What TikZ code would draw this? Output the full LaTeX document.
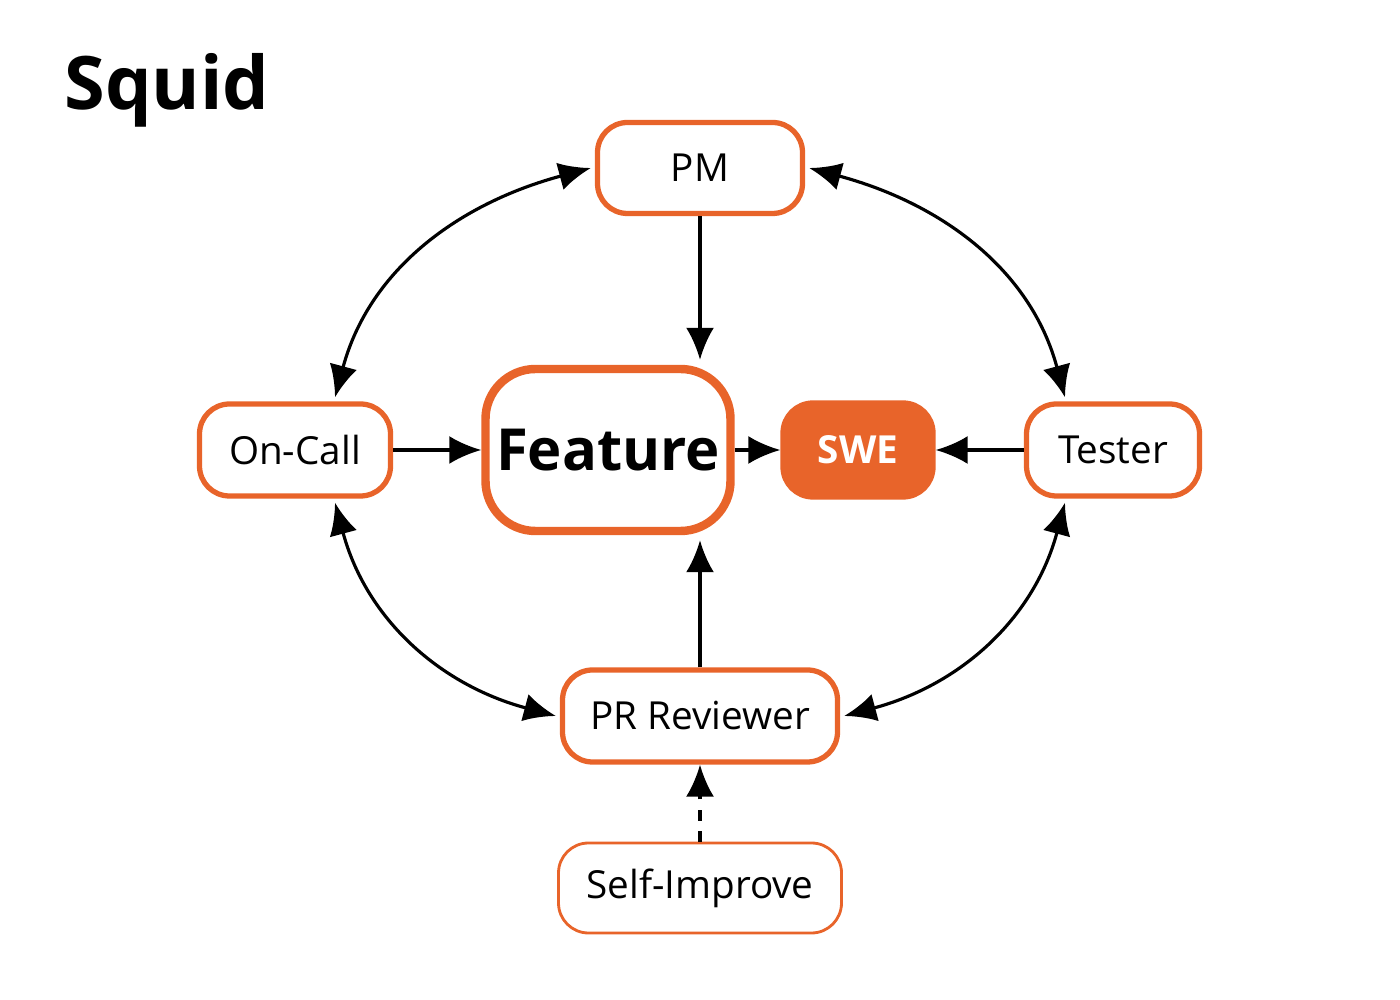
\documentclass[tikz,border=0pt]{standalone}
\usepackage{fontspec}
\setmainfont{Open Sans}
\usetikzlibrary{arrows.meta}
\definecolor{squidorange}{HTML}{E8642A}
\begin{document}
\begin{tikzpicture}[
          role/.style={draw=squidorange,line width=1.5pt,rounded corners=3mm,fill=white,
                       inner sep=0pt,font=\fontsize{11}{13}\selectfont},
          link/.style={line width=0.9pt,-{Latex[length=3.2mm,width=2.8mm]}},
          both/.style={line width=0.9pt,{Latex[length=3.2mm,width=2.8mm]}-{Latex[length=3.2mm,width=2.8mm]}},
        ]
        \useasboundingbox (0,0) rectangle (14,-10);
        \node[font=\fontsize{21}{25}\selectfont\bfseries,anchor=west] (title) at (0.52,-0.9) {Squid};

        \node[role,minimum width=2.05cm,minimum height=0.91cm] (pm) at (7,-1.68) {PM};
        \node[role,line width=2.4pt,rounded corners=5mm,minimum width=2.45cm,minimum height=1.62cm,
              font=\fontsize{16.5}{20}\selectfont\bfseries] (feature) at (6.08,-4.5) {Feature};
        \node[role,fill=squidorange,text=white,font=\fontsize{11}{13}\selectfont\bfseries,
              minimum width=1.5cm,minimum height=0.94cm] (swe) at (8.58,-4.5) {SWE};
        \node[role,minimum width=1.91cm,minimum height=0.92cm] (oncall) at (2.95,-4.5) {On-Call};
        \node[role,minimum width=1.73cm,minimum height=0.92cm] (tester) at (11.13,-4.5) {Tester};
        \node[role,minimum width=2.75cm,minimum height=0.92cm] (pr) at (7,-7.16) {PR Reviewer};
        \node[role,line width=0.8pt,minimum width=2.83cm,minimum height=0.9cm] (self) at (7,-8.88) {Self-Improve};

        % straight links
        \draw[link] (pm) -- ([yshift=0.05cm]feature.north -| pm);
        \draw[link] (oncall) -- (feature);
        \draw[link] (feature) -- (swe);
        \draw[link] (tester) -- (swe);
        \draw[link] (pr.north) -- ([yshift=-0.05cm]feature.south -| pr);
        \draw[link,dashed] (self) -- (pr);

        % loop around
        \draw[both] ([xshift=-0.04cm]pm.west) to[out=195,in=75] ([xshift=0.4cm,yshift=0.04cm]oncall.north);
        \draw[both] ([xshift=0.04cm]pm.east) to[out=-15,in=105] ([xshift=-0.48cm,yshift=0.04cm]tester.north);
        \draw[both] ([xshift=0.4cm,yshift=-0.04cm]oncall.south) to[out=-75,in=165] ([xshift=-0.04cm]pr.west);
        \draw[both] ([xshift=-0.48cm,yshift=-0.04cm]tester.south) to[out=-105,in=15] ([xshift=0.04cm]pr.east);
      \end{tikzpicture}
\end{document}
